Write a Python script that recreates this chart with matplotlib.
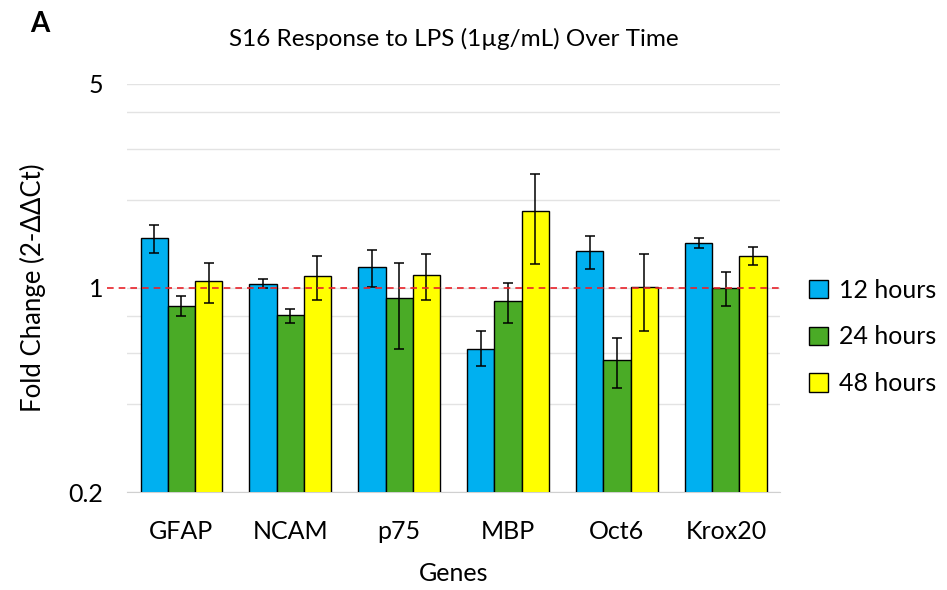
import numpy as np
import matplotlib.pyplot as plt
from matplotlib.ticker import FixedLocator, NullFormatter

plt.rcParams['font.family'] = ['Lato', 'DejaVu Sans']

genes = ['GFAP', 'NCAM', 'p75', 'MBP', 'Oct6', 'Krox20']
series = ['12 hours', '24 hours', '48 hours']

# fold change and error bar ends
h12 = [1.48, 1.03, 1.18, 0.62, 1.34, 1.42]
h12_hi = [1.64, 1.07, 1.35, 0.71, 1.51, 1.48]
h12_lo = [1.32, 1.00, 1.01, 0.54, 1.16, 1.37]

h24 = [0.87, 0.81, 0.92, 0.90, 0.565, 1.00]
h24_hi = [0.94, 0.85, 1.22, 1.04, 0.675, 1.13]
h24_lo = [0.80, 0.76, 0.62, 0.76, 0.455, 0.87]

h48 = [1.06, 1.10, 1.11, 1.84, 1.01, 1.29]
h48_hi = [1.22, 1.29, 1.31, 2.46, 1.31, 1.38]
h48_lo = [0.89, 0.91, 0.91, 1.21, 0.71, 1.20]

colors = ['#00b0f0', '#4aab26', '#ffff00']

fig = plt.figure(figsize=(9.47, 5.9), dpi=100)
ax = fig.add_axes([0.134, 0.166, 0.690, 0.692])

x = np.arange(len(genes))
w = 0.25
data = [(h12, h12_hi, h12_lo), (h24, h24_hi, h24_lo), (h48, h48_hi, h48_lo)]
for i, (vals, hi, lo) in enumerate(data):
    vals = np.array(vals)
    yerr = [vals - np.array(lo), np.array(hi) - vals]
    ax.bar(x + (i - 1) * w, vals, w, color=colors[i], edgecolor='black',
           linewidth=1.0, label=series[i], zorder=3)
    ax.errorbar(x + (i - 1) * w, vals, yerr=yerr, fmt='none', ecolor='black',
                elinewidth=1.1, capsize=3.5, capthick=1.1, zorder=4)

ax.set_yscale('log')
ax.set_ylim(0.2, 5)
ax.set_xlim(-0.5, len(genes) - 0.5)
ax.yaxis.set_major_locator(FixedLocator([0.2, 1, 5]))
ax.yaxis.set_minor_locator(FixedLocator([0.4, 0.6, 0.8, 2, 3, 4]))
ax.set_yticklabels(['0.2', '1', '5'])
ax.yaxis.set_minor_formatter(NullFormatter())
ax.grid(True, which='both', axis='y', color='#e3e3e3', linewidth=1.0, zorder=0)
ax.tick_params(axis='both', which='both', length=0, labelsize=18)
ax.tick_params(axis='y', pad=17)
ax.tick_params(axis='x', pad=20)
ax.set_xticks(x)
ax.set_xticklabels(genes)

for s in ['top', 'right', 'left']:
    ax.spines[s].set_visible(False)
ax.spines['bottom'].set_color('#d0d0d0')

ax.axhline(1, color='#e8222a', linestyle=(0, (4, 3)), linewidth=1.2, zorder=5,
           xmin=-0.03, clip_on=False)

ax.set_title('S16 Response to LPS (1µg/mL) Over Time', fontsize=17.5, pad=27)
ax.set_xlabel('Genes', fontsize=18, labelpad=14)
ax.set_ylabel('Fold Change (2-ΔΔCt)', fontsize=18.5, labelpad=16)

ax.legend(loc='center left', bbox_to_anchor=(1.01, 0.38), frameon=False,
          fontsize=18, handlelength=0.75, handleheight=0.75, labelspacing=0.95,
          handletextpad=0.45)

fig.text(0.032, 0.96, 'A', fontsize=20, fontweight='bold', va='center')

fig.savefig('out.png', dpi=100)
